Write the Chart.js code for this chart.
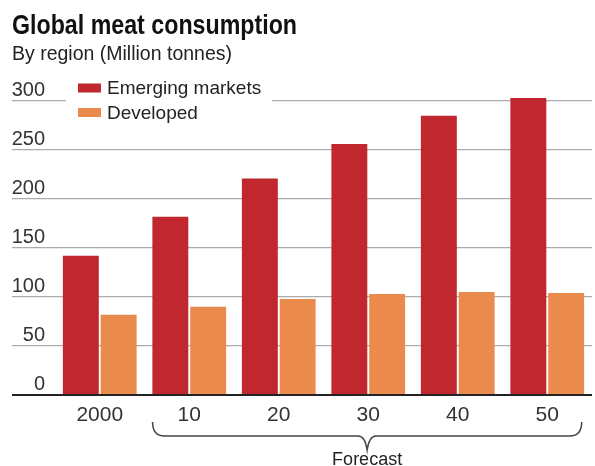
<!DOCTYPE html>
<html><head><meta charset="utf-8">
<script src="https://cdn.jsdelivr.net/npm/chart.js@4.4.1/dist/chart.umd.min.js"></script>
<style>html,body{margin:0;padding:0;background:#fff}#wrap{width:595px;height:466px;position:relative}</style>
</head><body><div id="wrap"><canvas id="c" width="595" height="466"></canvas></div>
<script>
const categories = ['2000', '10', '20', '30', '40', '50'];
const emerging = [142, 182, 221, 256, 285, 303];
const developed = [82, 90, 98, 103, 105, 104];
const yTicks = [0, 50, 100, 150, 200, 250, 300];
const seriesNames = ['Emerging markets', 'Developed'];
const seriesColors = ['#c1272f', '#eb8a4d'];
const titleText = 'Global meat consumption';
const subtitleText = 'By region (Million tonnes)';
const forecastLabel = 'Forecast';
const forecastRange = [1, 5];

const SANS = '"Liberation Sans", Arial, sans-serif';

const decor = {
  id: 'decor',
  afterDraw(chart) {
    const ctx = chart.ctx;
    const xs = chart.scales.x;
    const ys = chart.scales.y;
    const ca = chart.chartArea;
    ctx.save();
    // title (condensed look) + subtitle
    ctx.fillStyle = '#111';
    ctx.textAlign = 'left';
    ctx.textBaseline = 'alphabetic';
    ctx.font = 'bold 28px ' + SANS;
    const tw = ctx.measureText(titleText).width;
    ctx.save();
    ctx.translate(12, 34);
    ctx.scale(285 / tw, 1);
    ctx.fillText(titleText, 0, 0);
    ctx.restore();
    ctx.fillStyle = '#222';
    ctx.font = '19.5px ' + SANS;
    ctx.fillText(subtitleText, 12, 60);
    // legend
    const topY = ys.getPixelForValue(yTicks[yTicks.length - 1]);
    ctx.fillStyle = '#fff';
    ctx.fillRect(66, topY - 23, 206, 44);
    ctx.font = '19px ' + SANS;
    ctx.textBaseline = 'middle';
    chart.data.datasets.forEach((ds, i) => {
      const cy = topY - 13 + i * 24.5;
      ctx.fillStyle = ds.backgroundColor;
      ctx.fillRect(78, cy - 4.5, 23, 9);
      ctx.fillStyle = '#222';
      ctx.fillText(ds.label, 107, cy + 1);
    });
    // forecast bracket
    const w = xs.getPixelForValue(1) - xs.getPixelForValue(0);
    const left = xs.getPixelForValue(forecastRange[0]) - 0.41 * w;
    const right = xs.getPixelForValue(forecastRange[1]) + 0.385 * w;
    const mid = (left + right) / 2;
    const b = ca.bottom;
    const yTop = b + 27, yLine = b + 41, yPt = b + 55;
    ctx.strokeStyle = '#444';
    ctx.lineWidth = 1.5;
    ctx.beginPath();
    ctx.moveTo(left, yTop);
    ctx.quadraticCurveTo(left, yLine, left + 12, yLine);
    ctx.lineTo(mid - 9, yLine);
    ctx.quadraticCurveTo(mid - 2, yLine, mid, yPt);
    ctx.quadraticCurveTo(mid + 2, yLine, mid + 9, yLine);
    ctx.lineTo(right - 12, yLine);
    ctx.quadraticCurveTo(right, yLine, right, yTop);
    ctx.stroke();
    ctx.fillStyle = '#222';
    ctx.font = '18px ' + SANS;
    ctx.textAlign = 'center';
    ctx.textBaseline = 'alphabetic';
    ctx.fillText(forecastLabel, mid, b + 70);
    ctx.restore();
  }
};

new Chart(document.getElementById('c'), {
  type: 'bar',
  data: {
    labels: categories,
    datasets: [
      { label: seriesNames[0], data: emerging, backgroundColor: seriesColors[0] },
      { label: seriesNames[1], data: developed, backgroundColor: seriesColors[1] }
    ]
  },
  options: {
    responsive: false,
    animation: false,
    events: [],
    categoryPercentage: 0.845,
    barPercentage: 0.95,
    layout: { padding: { left: 12, right: 3, top: 91.2, bottom: 0 } },
    plugins: { legend: { display: false }, title: { display: false }, tooltip: { enabled: false } },
    scales: {
      x: {
        grid: { display: false },
        border: { display: false },
        ticks: { font: { family: SANS, size: 21 }, color: '#333', padding: 0, maxRotation: 0 },
        afterFit(s) { s.height = 71; }
      },
      y: {
        min: 0, max: 310,
        afterBuildTicks(s) { s.ticks = yTicks.map(v => ({ value: v })); },
        border: { display: false },
        grid: {
          color: c => (c.tick && c.tick.value === 0) ? '#222' : '#ababab',
          lineWidth: c => (c.tick && c.tick.value === 0) ? 2 : 1.2,
          drawTicks: true,
          tickLength: 43
        },
        ticks: { font: { family: SANS, size: 20 }, color: '#333', crossAlign: 'near', labelOffset: -11, padding: -33 },
        afterFit(s) { s.width = 43; }
      }
    }
  },
  plugins: [decor]
});
</script>
</body></html>
